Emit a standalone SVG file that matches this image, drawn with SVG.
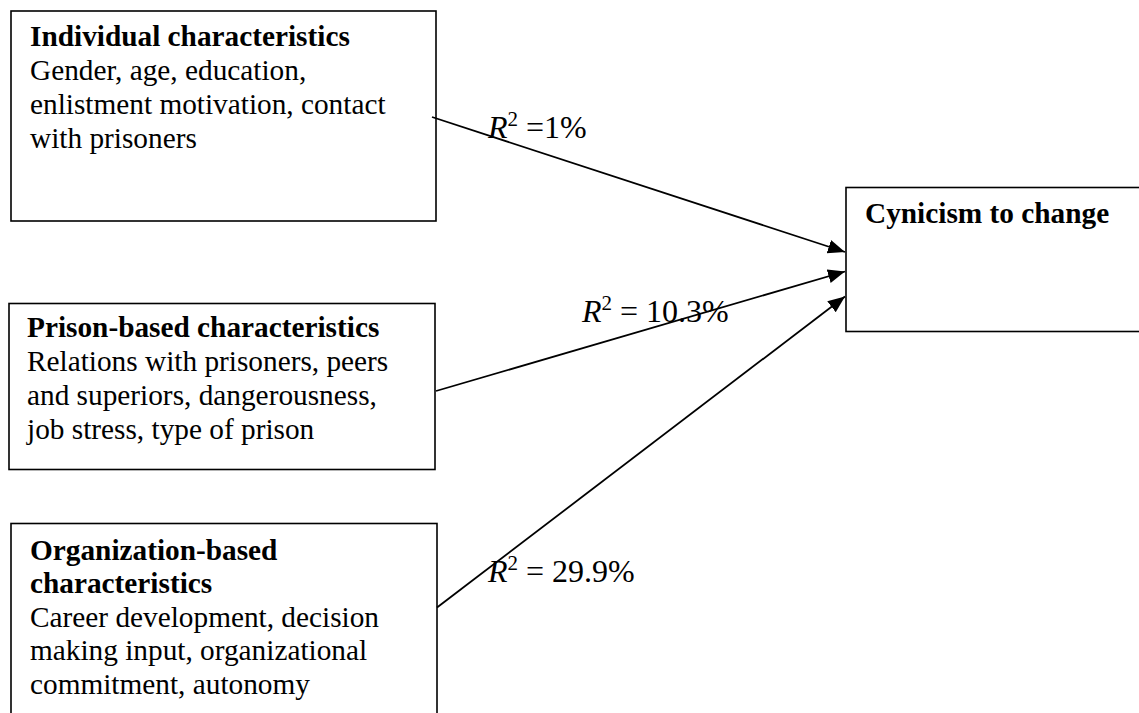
<svg xmlns="http://www.w3.org/2000/svg" width="1139" height="713" viewBox="0 0 1139 713">
<style>
.box{fill:#fff;stroke:#000;stroke-width:1.6}
.t{font-family:"Liberation Serif","Times New Roman",serif;font-size:29.3px;fill:#000}
.b{font-weight:bold}
.lab{font-family:"Liberation Serif","Times New Roman",serif;font-size:32px;fill:#000}
.edge{stroke:#000;stroke-width:1.8;fill:none;marker-end:url(#ah)}
</style>
<defs>
<marker id="ah" markerUnits="userSpaceOnUse" markerWidth="19" markerHeight="16" refX="17" refY="7" orient="auto">
<path d="M0,0 L17,7 L0,14 z" fill="#000"/>
</marker>
</defs>
<rect width="1139" height="713" fill="#fff"/>
<g id="n-individual">
<rect class="box" x="11" y="11" width="425" height="210"/>
<text class="t b" x="30" y="46">Individual characteristics</text>
<text class="t" x="30" y="80">Gender, age, education,</text>
<text class="t" x="30" y="114">enlistment motivation, contact</text>
<text class="t" x="30" y="148">with prisoners</text>
</g>
<g id="n-prison">
<rect class="box" x="9" y="303.5" width="426" height="166"/>
<text class="t b" x="27" y="336.5">Prison-based characteristics</text>
<text class="t" x="27" y="371">Relations with prisoners, peers</text>
<text class="t" x="27" y="405">and superiors, dangerousness,</text>
<text class="t" x="27" y="439">job stress, type of prison</text>
</g>
<g id="n-organization">
<rect class="box" x="11" y="523.5" width="426" height="220"/>
<text class="t b" x="30" y="559.5">Organization-based</text>
<text class="t b" x="30" y="593">characteristics</text>
<text class="t" x="30" y="626.5">Career development, decision</text>
<text class="t" x="30" y="660">making input, organizational</text>
<text class="t" x="30" y="693.5">commitment, autonomy</text>
</g>
<g id="n-cynicism">
<rect class="box" x="846" y="187.5" width="300" height="144"/>
<text class="t b" x="865" y="223">Cynicism to change</text>
</g>
<g id="connectors">
<line class="edge" x1="432" y1="117" x2="845" y2="252"/>
<line class="edge" x1="436" y1="391" x2="845" y2="271.5"/>
<line class="edge" x1="437" y1="607.5" x2="845" y2="296.5"/>
<text class="lab" x="488" y="137.5"><tspan font-style="italic">R</tspan><tspan font-size="21" dy="-12">2</tspan><tspan dy="12"> =1%</tspan></text>
<text class="lab" x="582" y="321.5"><tspan font-style="italic">R</tspan><tspan font-size="21" dy="-12">2</tspan><tspan dy="12"> = 10.3%</tspan></text>
<text class="lab" x="488" y="581.5"><tspan font-style="italic">R</tspan><tspan font-size="21" dy="-12">2</tspan><tspan dy="12"> = 29.9%</tspan></text>
</g>
</svg>
